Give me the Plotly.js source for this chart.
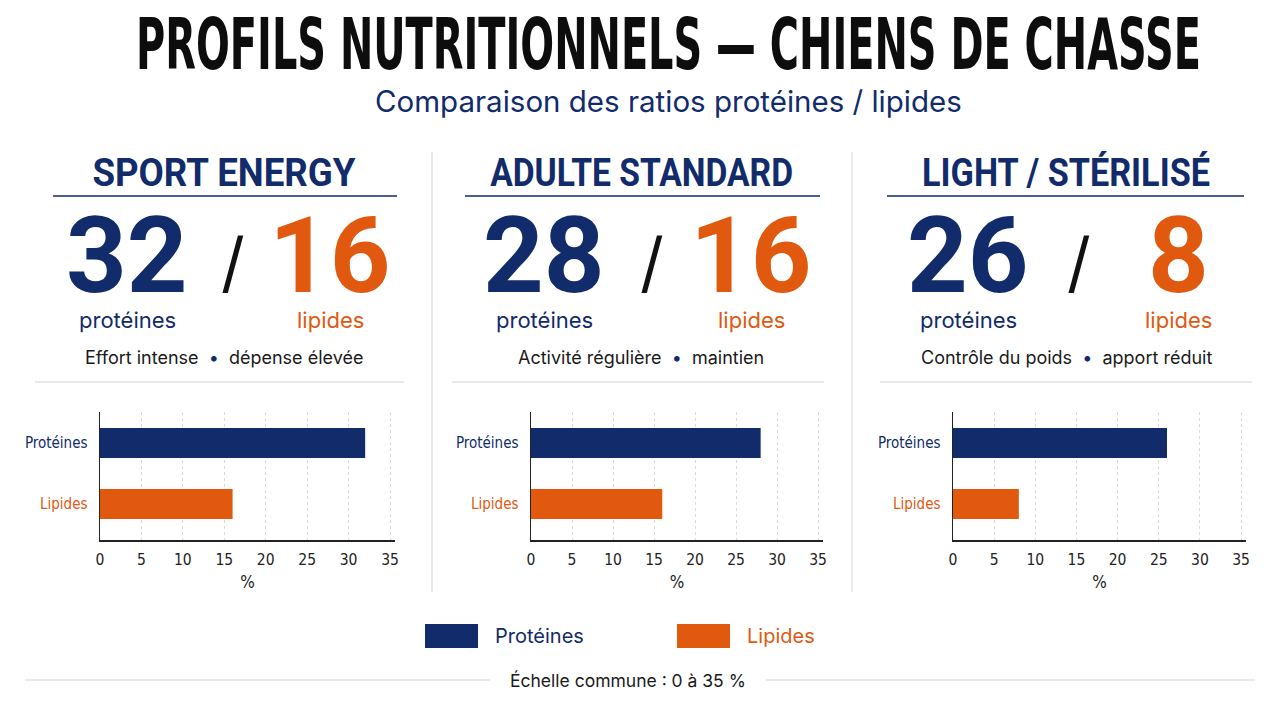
<!DOCTYPE html>
<html>
<head>
<meta charset="utf-8">
<script src="https://cdn.plot.ly/plotly-3.0.1.min.js"></script>
<style>
  html, body { margin: 0; padding: 0; background: #ffffff; }
  #chart { width: 1280px; height: 702px; }
</style>
</head>
<body>
<div id="chart"></div>
<script>
// Nutrition profiles for hunting dogs: protein / fat share (%)
const profils = ['SPORT ENERGY', 'ADULTE STANDARD', 'LIGHT / STÉRILISÉ'];
const proteines = [32, 28, 26];
const lipides = [16, 16, 8];
const descriptions = ['Effort intense', 'Activité régulière', 'Contrôle du poids'];
const descriptionsSuite = ['dépense élevée', 'maintien', 'apport réduit'];
const categories = ['Protéines', 'Lipides'];
const xTicks = [0, 5, 10, 15, 20, 25, 30, 35];

const NAVY = '#112b6b';
const ORANGE = '#e0590f';
const W = 1280, H = 702;
const px = x => x / W;
const py = y => 1 - y / H;

const CONDENSED = 'DejaVu Sans Condensed, DejaVu Sans, sans-serif';
const SANS = 'Inter, Roboto, Noto Sans, sans-serif';
const HEAD = 'Roboto, Inter, sans-serif';

// Panel geometry (pixel positions)
const panels = [
  { cx: 224, ul: [53, 397], headW: 264, numP: 127, slash: 233, numL: 330, sep: [35, 404], plot: [100, 395] },
  { cx: 641, ul: [465, 820], headW: 303, numP: 544, slash: 652, numL: 751, sep: [452, 824], plot: [531, 823] },
  { cx: 1066, ul: [887, 1244], headW: 288, numP: 968, slash: 1079, numL: 1178, sep: [880, 1252], plot: [953, 1246] }
];
const plotTop = 412, plotBottom = 540;

// Annotations whose text is narrowed horizontally to a given pixel width
const narrowed = [];

const data = [];
const layout = {
  width: W, height: H,
  margin: { l: 0, r: 0, t: 0, b: 0 },
  paper_bgcolor: '#ffffff',
  plot_bgcolor: 'rgba(0,0,0,0)',
  showlegend: false,
  bargap: 0.51,
  annotations: [],
  shapes: []
};

profils.forEach((name, i) => {
  const p = panels[i];
  const sfx = i === 0 ? '' : String(i + 1);
  data.push({
    type: 'bar',
    orientation: 'h',
    x: [proteines[i], lipides[i]],
    y: categories,
    xaxis: 'x' + sfx,
    yaxis: 'y' + sfx,
    marker: { color: [NAVY, ORANGE] },
    hoverinfo: 'x+y'
  });

  layout['xaxis' + sfx] = {
    domain: [px(p.plot[0]), px(p.plot[1])],
    anchor: 'y' + sfx,
    range: [0, 35.6],
    tickvals: xTicks,
    ticktext: xTicks.map(String),
    showgrid: true,
    gridcolor: '#d9d9d9',
    griddash: 'dot',
    gridwidth: 1,
    zeroline: false,
    showline: true,
    linecolor: '#222',
    linewidth: 1.5,
    ticks: '',
    ticklabelstandoff: 5,
    tickfont: { family: CONDENSED, size: 15.5, color: '#222' },
    title: { text: '%', font: { family: CONDENSED, size: 17, color: '#222' }, standoff: 8 },
    fixedrange: true
  };
  layout['yaxis' + sfx] = {
    domain: [py(plotBottom), py(plotTop)],
    anchor: 'x' + sfx,
    type: 'category',
    categoryorder: 'array',
    categoryarray: categories.slice().reverse(),
    range: [-0.59, 1.508],
    tickvals: categories,
    ticktext: [
      '<span style="color:' + NAVY + '">' + categories[0] + '</span>',
      '<span style="color:' + ORANGE + '">' + categories[1] + '</span>'
    ],
    showgrid: false,
    zeroline: false,
    showline: true,
    linecolor: '#222',
    linewidth: 1.5,
    ticks: '',
    ticklabelstandoff: 8,
    tickfont: { family: CONDENSED, size: 15 },
    fixedrange: true
  };

  // Panel header and underline
  narrowed.push({ index: layout.annotations.length, width: p.headW });
  layout.annotations.push({
    xref: 'paper', yref: 'paper', x: px(p.cx), y: py(173),
    text: '<b>' + name + '</b>', showarrow: false,
    xanchor: 'center', yanchor: 'middle',
    font: { family: HEAD, size: 39, color: NAVY }
  });
  layout.shapes.push({
    type: 'line', xref: 'paper', yref: 'paper',
    x0: px(p.ul[0]), x1: px(p.ul[1]), y0: py(196), y1: py(196),
    line: { color: NAVY, width: 1.5 }
  });

  // Big ratio figures
  layout.annotations.push({
    xref: 'paper', yref: 'paper', x: px(p.numP), y: py(256),
    text: '<b>' + proteines[i] + '</b>', showarrow: false,
    xanchor: 'center', yanchor: 'middle',
    font: { family: HEAD, size: 106, color: NAVY }
  });
  layout.annotations.push({
    xref: 'paper', yref: 'paper', x: px(p.slash), y: py(262),
    text: '/', showarrow: false,
    xanchor: 'center', yanchor: 'middle',
    font: { family: SANS, size: 66, color: '#111' }
  });
  layout.annotations.push({
    xref: 'paper', yref: 'paper', x: px(p.numL), y: py(256),
    text: '<b>' + lipides[i] + '</b>', showarrow: false,
    xanchor: 'center', yanchor: 'middle',
    font: { family: HEAD, size: 106, color: ORANGE }
  });
  layout.annotations.push({
    xref: 'paper', yref: 'paper', x: px(p.numP), y: py(320),
    text: 'protéines', showarrow: false,
    xanchor: 'center', yanchor: 'middle',
    font: { family: SANS, size: 22, color: NAVY }
  });
  layout.annotations.push({
    xref: 'paper', yref: 'paper', x: px(p.numL), y: py(320),
    text: 'lipides', showarrow: false,
    xanchor: 'center', yanchor: 'middle',
    font: { family: SANS, size: 22, color: ORANGE }
  });

  // Description line
  layout.annotations.push({
    xref: 'paper', yref: 'paper', x: px(p.cx), y: py(357),
    text: descriptions[i] + '&nbsp; <span style="color:' + NAVY + '">•</span> &nbsp;' + descriptionsSuite[i],
    showarrow: false, xanchor: 'center', yanchor: 'middle',
    font: { family: SANS, size: 18, color: '#1a1a1a' }
  });
  layout.shapes.push({
    type: 'line', xref: 'paper', yref: 'paper',
    x0: px(p.sep[0]), x1: px(p.sep[1]), y0: py(382), y1: py(382),
    line: { color: '#d4d4d4', width: 1.2 }
  });
});

// Vertical dividers between panels
[432, 852].forEach(x => {
  layout.shapes.push({
    type: 'line', xref: 'paper', yref: 'paper',
    x0: px(x), x1: px(x), y0: py(152), y1: py(592),
    line: { color: '#dcdcdc', width: 1.2 }
  });
});

// Main title and subtitle
narrowed.push({ index: layout.annotations.length, width: 1065 });
layout.annotations.push({
  xref: 'paper', yref: 'paper', x: px(668), y: py(45),
  text: '<b>PROFILS NUTRITIONNELS — CHIENS DE CHASSE</b>', showarrow: false,
  xanchor: 'center', yanchor: 'middle',
  font: { family: 'DejaVu Sans, sans-serif', size: 71, color: '#0d0d0d' }
});
layout.annotations.push({
  xref: 'paper', yref: 'paper', x: px(668), y: py(101),
  text: 'Comparaison des ratios protéines / lipides', showarrow: false,
  xanchor: 'center', yanchor: 'middle',
  font: { family: SANS, size: 29.5, color: NAVY }
});

// Legend swatches
const legendItems = [
  { label: categories[0], color: NAVY, x0: 425, tx: 493 },
  { label: categories[1], color: ORANGE, x0: 677, tx: 745 }
];
legendItems.forEach(it => {
  layout.shapes.push({
    type: 'rect', xref: 'paper', yref: 'paper',
    x0: px(it.x0), x1: px(it.x0 + 53), y0: py(648), y1: py(624),
    fillcolor: it.color, line: { width: 0 }
  });
  layout.annotations.push({
    xref: 'paper', yref: 'paper', x: px(it.tx), y: py(636),
    text: it.label, showarrow: false, xanchor: 'left', yanchor: 'middle',
    font: { family: SANS, size: 20, color: it.color }
  });
});

// Footer note on the shared scale
layout.annotations.push({
  xref: 'paper', yref: 'paper', x: px(628), y: py(680),
  text: 'Échelle commune : 0 à 35 %', showarrow: false,
  xanchor: 'center', yanchor: 'middle',
  font: { family: SANS, size: 17.5, color: '#1a1a1a' }
});
[[25, 490], [766, 1255]].forEach(([a, b]) => {
  layout.shapes.push({
    type: 'line', xref: 'paper', yref: 'paper',
    x0: px(a), x1: px(b), y0: py(680), y1: py(680),
    line: { color: '#d4d4d4', width: 1.2 }
  });
});

Plotly.newPlot('chart', data, layout, { displayModeBar: false, staticPlot: true }).then(gd => {
  // Squeeze heading texts into a condensed look at their set width
  const groups = gd.querySelectorAll('.annotation');
  narrowed.forEach(({ index, width }) => {
    const g = Array.from(groups).find(el => el.getAttribute('data-index') === String(index));
    if (!g) return;
    const t = g.querySelector('text.annotation-text');
    if (!t) return;
    const bb = t.getBBox();
    if (!bb.width) return;
    const s = width / bb.width;
    const cx = bb.x + bb.width / 2;
    const prev = t.getAttribute('transform') || '';
    t.setAttribute('transform', prev + ' translate(' + cx + ',0) scale(' + s + ',1) translate(' + (-cx) + ',0)');
  });
});
</script>
</body>
</html>
